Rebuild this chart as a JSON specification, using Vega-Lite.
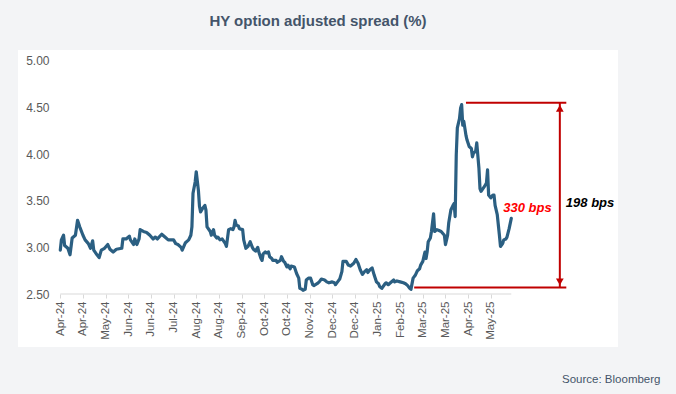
{
  "$schema": "https://vega.github.io/schema/vega-lite/v6.json",
  "width": 600,
  "height": 297,
  "autosize": {"type": "none"},
  "padding": {"left": 18, "top": 50, "right": 58, "bottom": 47},
  "background": "#f3f4f6",
  "title": {
    "text": "HY option adjusted spread (%)",
    "font": "Liberation Sans",
    "fontSize": 15,
    "fontWeight": "bold",
    "color": "#44546a",
    "anchor": "middle",
    "offset": 21
  },
  "datasets": {
    "hy": [
      {"date":"2024-04-01","oas":2.97},{"date":"2024-04-02","oas":3.08},{"date":"2024-04-04","oas":3.13},{"date":"2024-04-05","oas":3.02},
      {"date":"2024-04-08","oas":2.99},{"date":"2024-04-10","oas":2.92},{"date":"2024-04-12","oas":3.10},{"date":"2024-04-15","oas":3.13},
      {"date":"2024-04-17","oas":3.29},{"date":"2024-04-19","oas":3.22},{"date":"2024-04-22","oas":3.13},{"date":"2024-04-24","oas":3.08},
      {"date":"2024-04-27","oas":3.04},{"date":"2024-04-29","oas":2.99},{"date":"2024-05-01","oas":3.07},{"date":"2024-05-02","oas":2.97},
      {"date":"2024-05-05","oas":2.92},{"date":"2024-05-07","oas":2.89},{"date":"2024-05-09","oas":2.97},{"date":"2024-05-12","oas":2.99},
      {"date":"2024-05-15","oas":3.03},{"date":"2024-05-17","oas":2.98},{"date":"2024-05-20","oas":2.95},{"date":"2024-05-23","oas":2.98},
      {"date":"2024-05-28","oas":2.99},{"date":"2024-05-29","oas":3.09},{"date":"2024-06-01","oas":3.09},{"date":"2024-06-04","oas":3.12},
      {"date":"2024-06-05","oas":3.08},{"date":"2024-06-08","oas":3.03},{"date":"2024-06-09","oas":3.09},{"date":"2024-06-11","oas":3.03},
      {"date":"2024-06-13","oas":3.09},{"date":"2024-06-14","oas":3.19},{"date":"2024-06-17","oas":3.17},{"date":"2024-06-20","oas":3.16},
      {"date":"2024-06-23","oas":3.13},{"date":"2024-06-26","oas":3.09},{"date":"2024-06-28","oas":3.11},{"date":"2024-06-30","oas":3.09},
      {"date":"2024-07-04","oas":3.14},{"date":"2024-07-07","oas":3.11},{"date":"2024-07-10","oas":3.08},{"date":"2024-07-15","oas":3.08},
      {"date":"2024-07-17","oas":3.04},{"date":"2024-07-19","oas":3.03},{"date":"2024-07-22","oas":3.00},{"date":"2024-07-23","oas":2.97},
      {"date":"2024-07-26","oas":3.05},{"date":"2024-07-29","oas":3.08},{"date":"2024-07-31","oas":3.13},{"date":"2024-08-01","oas":3.22},
      {"date":"2024-08-02","oas":3.58},{"date":"2024-08-04","oas":3.70},{"date":"2024-08-05","oas":3.81},{"date":"2024-08-07","oas":3.61},
      {"date":"2024-08-08","oas":3.44},{"date":"2024-08-09","oas":3.38},{"date":"2024-08-11","oas":3.42},{"date":"2024-08-13","oas":3.45},
      {"date":"2024-08-14","oas":3.40},{"date":"2024-08-15","oas":3.22},{"date":"2024-08-18","oas":3.17},{"date":"2024-08-19","oas":3.13},
      {"date":"2024-08-21","oas":3.19},{"date":"2024-08-22","oas":3.13},{"date":"2024-08-24","oas":3.10},{"date":"2024-08-25","oas":3.11},
      {"date":"2024-08-27","oas":3.08},{"date":"2024-08-29","oas":3.09},{"date":"2024-09-01","oas":3.04},{"date":"2024-09-02","oas":3.01},
      {"date":"2024-09-04","oas":3.19},{"date":"2024-09-06","oas":3.20},{"date":"2024-09-08","oas":3.19},{"date":"2024-09-09","oas":3.22},
      {"date":"2024-09-10","oas":3.29},{"date":"2024-09-11","oas":3.24},{"date":"2024-09-13","oas":3.23},{"date":"2024-09-14","oas":3.20},
      {"date":"2024-09-17","oas":3.19},{"date":"2024-09-18","oas":3.08},{"date":"2024-09-20","oas":2.99},{"date":"2024-09-22","oas":3.01},
      {"date":"2024-09-24","oas":3.06},{"date":"2024-09-26","oas":3.00},{"date":"2024-09-27","oas":2.98},{"date":"2024-09-29","oas":2.96},
      {"date":"2024-10-01","oas":3.00},{"date":"2024-10-02","oas":2.95},{"date":"2024-10-04","oas":2.88},{"date":"2024-10-05","oas":2.86},
      {"date":"2024-10-06","oas":2.93},{"date":"2024-10-08","oas":2.95},{"date":"2024-10-09","oas":2.94},{"date":"2024-10-11","oas":2.95},
      {"date":"2024-10-12","oas":2.90},{"date":"2024-10-14","oas":2.88},{"date":"2024-10-15","oas":2.86},{"date":"2024-10-18","oas":2.86},
      {"date":"2024-10-19","oas":2.84},{"date":"2024-10-22","oas":2.86},{"date":"2024-10-23","oas":2.90},{"date":"2024-10-25","oas":2.85},
      {"date":"2024-10-26","oas":2.84},{"date":"2024-10-28","oas":2.79},{"date":"2024-10-29","oas":2.81},{"date":"2024-10-31","oas":2.77},
      {"date":"2024-11-01","oas":2.80},{"date":"2024-11-04","oas":2.79},{"date":"2024-11-06","oas":2.72},{"date":"2024-11-08","oas":2.67},
      {"date":"2024-11-09","oas":2.56},{"date":"2024-11-11","oas":2.55},{"date":"2024-11-12","oas":2.54},{"date":"2024-11-14","oas":2.55},
      {"date":"2024-11-15","oas":2.65},{"date":"2024-11-17","oas":2.67},{"date":"2024-11-19","oas":2.67},{"date":"2024-11-21","oas":2.60},
      {"date":"2024-11-22","oas":2.59},{"date":"2024-11-25","oas":2.61},{"date":"2024-11-27","oas":2.63},{"date":"2024-11-29","oas":2.66},
      {"date":"2024-12-02","oas":2.65},{"date":"2024-12-04","oas":2.63},{"date":"2024-12-06","oas":2.62},{"date":"2024-12-09","oas":2.63},
      {"date":"2024-12-11","oas":2.62},{"date":"2024-12-12","oas":2.60},{"date":"2024-12-14","oas":2.63},{"date":"2024-12-16","oas":2.66},
      {"date":"2024-12-18","oas":2.74},{"date":"2024-12-19","oas":2.85},{"date":"2024-12-22","oas":2.85},{"date":"2024-12-24","oas":2.81},
      {"date":"2024-12-26","oas":2.80},{"date":"2024-12-29","oas":2.83},{"date":"2024-12-31","oas":2.87},{"date":"2025-01-02","oas":2.83},
      {"date":"2025-01-04","oas":2.76},{"date":"2025-01-06","oas":2.71},{"date":"2025-01-08","oas":2.74},{"date":"2025-01-10","oas":2.76},
      {"date":"2025-01-11","oas":2.73},{"date":"2025-01-13","oas":2.76},{"date":"2025-01-15","oas":2.78},{"date":"2025-01-17","oas":2.70},
      {"date":"2025-01-19","oas":2.63},{"date":"2025-01-21","oas":2.61},{"date":"2025-01-22","oas":2.58},{"date":"2025-01-24","oas":2.56},
      {"date":"2025-01-27","oas":2.61},{"date":"2025-01-28","oas":2.62},{"date":"2025-01-30","oas":2.60},{"date":"2025-02-01","oas":2.62},
      {"date":"2025-02-04","oas":2.65},{"date":"2025-02-05","oas":2.63},{"date":"2025-02-07","oas":2.64},{"date":"2025-02-10","oas":2.63},
      {"date":"2025-02-13","oas":2.62},{"date":"2025-02-15","oas":2.61},{"date":"2025-02-17","oas":2.59},{"date":"2025-02-19","oas":2.56},
      {"date":"2025-02-20","oas":2.55},{"date":"2025-02-22","oas":2.67},{"date":"2025-02-24","oas":2.70},{"date":"2025-02-26","oas":2.75},
      {"date":"2025-02-28","oas":2.77},{"date":"2025-03-01","oas":2.81},{"date":"2025-03-03","oas":2.85},{"date":"2025-03-04","oas":2.90},
      {"date":"2025-03-05","oas":2.95},{"date":"2025-03-06","oas":2.88},{"date":"2025-03-07","oas":2.95},{"date":"2025-03-08","oas":3.06},
      {"date":"2025-03-10","oas":3.10},{"date":"2025-03-11","oas":3.17},{"date":"2025-03-13","oas":3.36},{"date":"2025-03-14","oas":3.17},
      {"date":"2025-03-16","oas":3.19},{"date":"2025-03-18","oas":3.18},{"date":"2025-03-20","oas":3.17},{"date":"2025-03-23","oas":3.13},
      {"date":"2025-03-24","oas":3.03},{"date":"2025-03-26","oas":3.13},{"date":"2025-03-27","oas":3.26},{"date":"2025-03-29","oas":3.40},
      {"date":"2025-03-31","oas":3.45},{"date":"2025-04-01","oas":3.47},{"date":"2025-04-02","oas":3.33},{"date":"2025-04-03","oas":3.99},
      {"date":"2025-04-04","oas":4.28},{"date":"2025-04-06","oas":4.38},{"date":"2025-04-07","oas":4.49},{"date":"2025-04-08","oas":4.53},
      {"date":"2025-04-09","oas":4.31},{"date":"2025-04-10","oas":4.35},{"date":"2025-04-12","oas":4.20},{"date":"2025-04-13","oas":4.15},
      {"date":"2025-04-15","oas":4.08},{"date":"2025-04-17","oas":4.06},{"date":"2025-04-18","oas":3.97},{"date":"2025-04-19","oas":4.01},
      {"date":"2025-04-21","oas":4.03},{"date":"2025-04-22","oas":4.12},{"date":"2025-04-24","oas":3.85},{"date":"2025-04-25","oas":3.63},
      {"date":"2025-04-26","oas":3.60},{"date":"2025-04-29","oas":3.65},{"date":"2025-05-01","oas":3.69},{"date":"2025-05-02","oas":3.83},
      {"date":"2025-05-03","oas":3.56},{"date":"2025-05-05","oas":3.53},{"date":"2025-05-07","oas":3.56},{"date":"2025-05-08","oas":3.56},
      {"date":"2025-05-09","oas":3.45},{"date":"2025-05-11","oas":3.35},{"date":"2025-05-13","oas":3.13},{"date":"2025-05-14","oas":3.01},
      {"date":"2025-05-16","oas":3.04},{"date":"2025-05-17","oas":3.08},{"date":"2025-05-19","oas":3.09},{"date":"2025-05-20","oas":3.11},
      {"date":"2025-05-22","oas":3.20},{"date":"2025-05-24","oas":3.31}
    ],
    "levels": [
      {"start":"2025-04-12","end":"2025-07-14","oas":4.55},
      {"start":"2025-02-23","end":"2025-07-14","oas":2.57}
    ],
    "arrow": [
      {"date":"2025-07-08","top":4.55,"bottom":2.57}
    ],
    "heads": [
      {"date":"2025-07-08","oas":4.49,"dir":"up"},
      {"date":"2025-07-08","oas":2.63,"dir":"down"}
    ],
    "redLabel": [{"date":"2025-06-08","oas":3.42,"label":"330 bps"}],
    "blackLabel": [{"date":"2025-08-05","oas":3.48,"label":"198 bps"}]
  },
  "resolve": {"axis": {"x": "independent", "y": "independent"}},
  "layer": [
    {
      "data": {"name": "hy"},
      "mark": {"type": "line", "color": "#2b5f82", "strokeWidth": 3.2, "strokeJoin": "round", "strokeCap": "round"},
      "encoding": {
        "x": {
          "field": "date",
          "type": "temporal",
          "scale": {"domain": [
            {"year": 2024, "month": 2, "date": 21, "hours": 19, "utc": true},
            {"year": 2025, "month": 8, "date": 30, "hours": 22, "utc": true}
          ]},
          "axis": {
            "values": [
              {"year":2024,"month":4,"date":1,"utc":true},{"year":2024,"month":4,"date":22,"utc":true},
              {"year":2024,"month":5,"date":13,"utc":true},{"year":2024,"month":6,"date":3,"utc":true},
              {"year":2024,"month":6,"date":24,"utc":true},{"year":2024,"month":7,"date":15,"utc":true},
              {"year":2024,"month":8,"date":5,"utc":true},{"year":2024,"month":8,"date":26,"utc":true},
              {"year":2024,"month":9,"date":16,"utc":true},{"year":2024,"month":10,"date":7,"utc":true},
              {"year":2024,"month":10,"date":28,"utc":true},{"year":2024,"month":11,"date":18,"utc":true},
              {"year":2024,"month":12,"date":9,"utc":true},{"year":2024,"month":12,"date":30,"utc":true},
              {"year":2025,"month":1,"date":20,"utc":true},{"year":2025,"month":2,"date":10,"utc":true},
              {"year":2025,"month":3,"date":3,"utc":true},{"year":2025,"month":3,"date":24,"utc":true},
              {"year":2025,"month":4,"date":14,"utc":true},{"year":2025,"month":5,"date":5,"utc":true}
            ],
            "labelExpr": "utcFormat(datum.value, '%b-%y')",
            "labelAngle": 270,
            "labelFont": "Liberation Sans",
            "labelFontSize": 11.5,
            "labelColor": "#595959",
            "labelOverlap": false,
            "labelFlush": false,
            "labelPadding": 3,
            "domain": false,
            "grid": false,
            "ticks": true,
            "tickSize": 4,
            "tickColor": "#d9d9d9",
            "offset": -53,
            "title": "Source: Bloomberg",
            "titleX": 642,
            "titleY": 88,
            "titleAlign": "right",
            "titleBaseline": "alphabetic",
            "titleFont": "Liberation Sans",
            "titleFontSize": 11.5,
            "titleFontWeight": "normal",
            "titleColor": "#44546a"
          }
        },
        "y": {
          "field": "oas",
          "type": "quantitative",
          "scale": {"domain": [1.932, 5.115], "nice": false, "zero": false},
          "axis": {
            "values": [2.5, 3, 3.5, 4, 4.5, 5],
            "format": ".2f",
            "domain": false,
            "ticks": false,
            "grid": false,
            "offset": -35,
            "labelPadding": 4,
            "labelFont": "Liberation Sans",
            "labelFontSize": 12,
            "labelColor": "#595959",
            "title": null
          }
        }
      }
    },
    {
      "data": {"name": "hy"},
      "mark": {"type": "rule", "color": "#d9d9d9", "strokeWidth": 1},
      "encoding": {
        "x": {"aggregate": "min", "field": "date", "type": "temporal", "axis": null},
        "x2": {"aggregate": "max", "field": "date"},
        "y": {"datum": 2.5, "type": "quantitative", "axis": null}
      }
    },
    {
      "data": {"name": "levels"},
      "mark": {"type": "rule", "color": "#c00000", "strokeWidth": 2},
      "encoding": {
        "x": {"field": "start", "type": "temporal", "axis": null},
        "x2": {"field": "end"},
        "y": {"field": "oas", "type": "quantitative", "axis": null}
      }
    },
    {
      "data": {"name": "arrow"},
      "mark": {"type": "rule", "color": "#c00000", "strokeWidth": 2},
      "encoding": {
        "x": {"field": "date", "type": "temporal", "axis": null},
        "y": {"field": "top", "type": "quantitative", "axis": null},
        "y2": {"field": "bottom"}
      }
    },
    {
      "data": {"name": "heads"},
      "mark": {"type": "point", "filled": true, "color": "#c00000", "opacity": 1, "size": 60},
      "encoding": {
        "x": {"field": "date", "type": "temporal", "axis": null},
        "y": {"field": "oas", "type": "quantitative", "axis": null},
        "shape": {"field": "dir", "type": "nominal", "scale": {"domain": ["up", "down"], "range": ["triangle-up", "triangle-down"]}, "legend": null}
      }
    },
    {
      "data": {"name": "redLabel"},
      "mark": {"type": "text", "color": "#ff0000", "font": "Liberation Sans", "fontSize": 13, "fontWeight": "bold", "fontStyle": "italic", "align": "center", "baseline": "middle"},
      "encoding": {
        "x": {"field": "date", "type": "temporal", "axis": null},
        "y": {"field": "oas", "type": "quantitative", "axis": null},
        "text": {"field": "label"}
      }
    },
    {
      "data": {"name": "blackLabel"},
      "mark": {"type": "text", "color": "#000000", "font": "Liberation Sans", "fontSize": 13, "fontWeight": "bold", "fontStyle": "italic", "align": "center", "baseline": "middle"},
      "encoding": {
        "x": {"field": "date", "type": "temporal", "axis": null},
        "y": {"field": "oas", "type": "quantitative", "axis": null},
        "text": {"field": "label"}
      }
    }
  ],
  "config": {
    "font": "Liberation Sans",
    "view": {"fill": "#ffffff", "stroke": null}
  }
}
